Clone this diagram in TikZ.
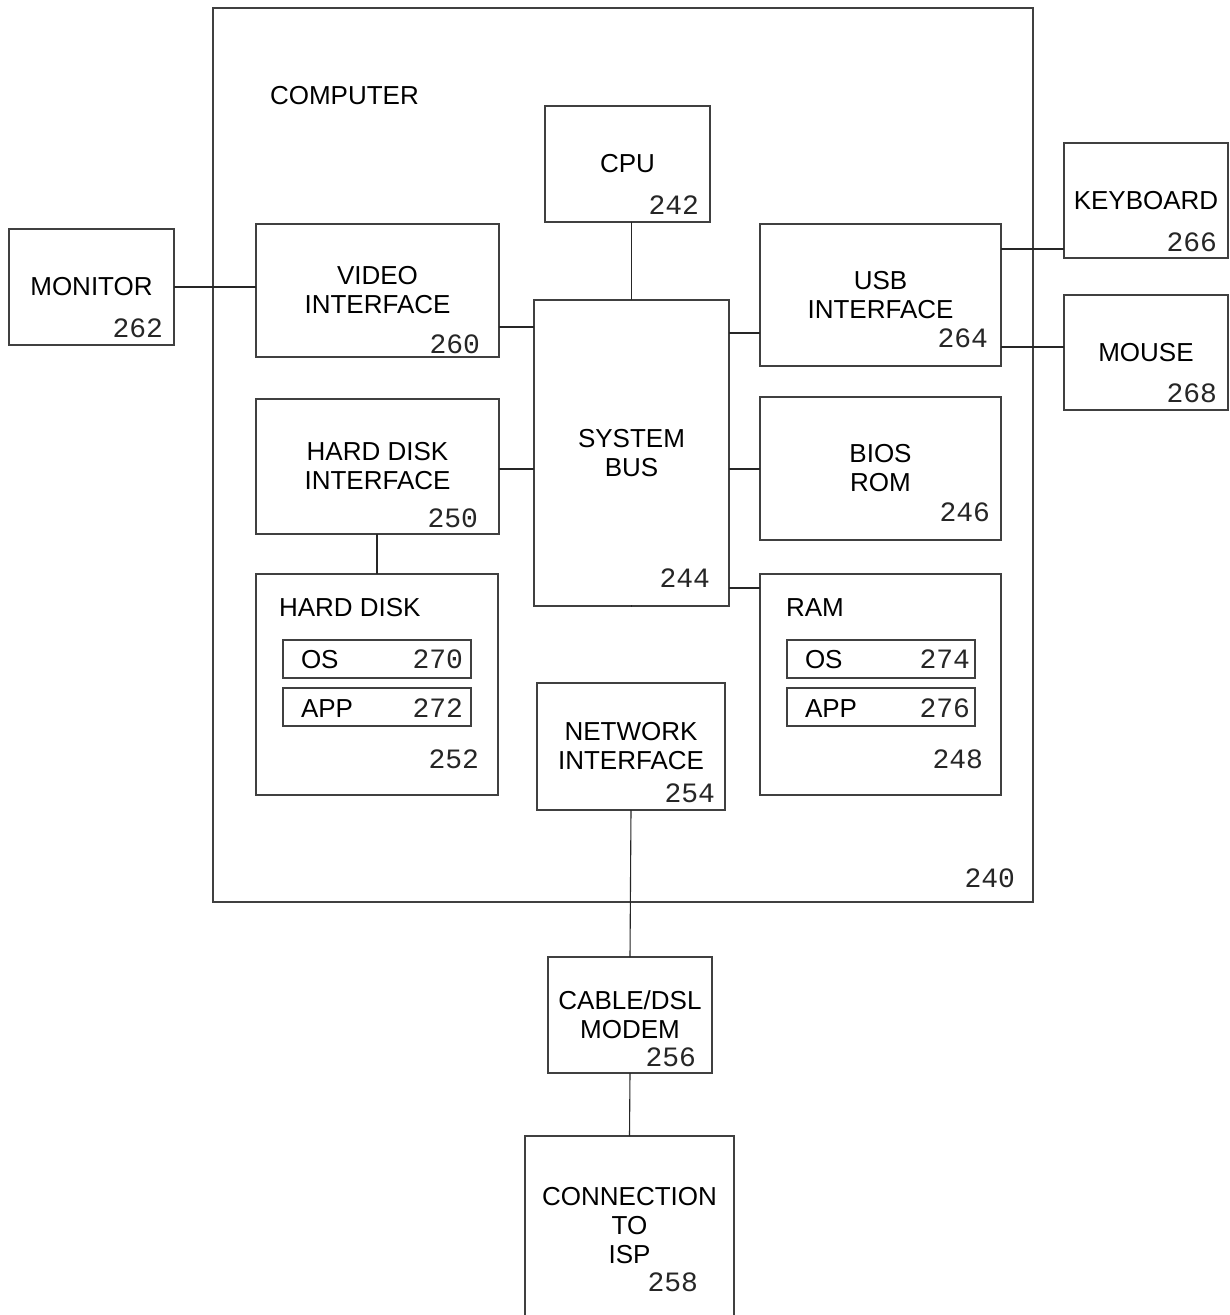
\documentclass[tikz,border=0pt]{standalone}
\usepackage{fontspec}
\setmainfont{Liberation Sans}
\newfontfamily\numfont{Liberation Mono}
\begin{document}
\begin{tikzpicture}[x=1pt,y=-1pt,
  box/.style={draw=black!75, line width=1.1pt, inner sep=0pt, outer sep=0pt, align=center,
    font=\fontsize{26}{29}\selectfont},
  num/.style={inner sep=0pt, outer sep=0pt, font=\numfont\fontsize{28}{30}\selectfont, text=black!85},
  lbl/.style={inner sep=0pt, outer sep=0pt, font=\fontsize{26}{29}\selectfont},
  wire/.style={draw=black!85, line width=1.1pt}]
\useasboundingbox (0,0) rectangle (1230,1315);
\fill[white] (0,0) rectangle (1230,1315);

% boxes
\node[box, minimum width=820pt, minimum height=894pt] (computer) at (623,455) {};
\node[box, minimum width=165pt, minimum height=116pt] (cpu) at (627.5,164) {CPU};
\node[box, minimum width=165pt, minimum height=116pt] (monitor) at (91.5,287) {MONITOR};
\node[box, minimum width=243pt, minimum height=133pt] (video) at (377.5,290.5) {VIDEO\\INTERFACE};
\node[box, minimum width=195pt, minimum height=306pt] (sysbus) at (631.5,453) {SYSTEM\\BUS};
\node[box, minimum width=241pt, minimum height=142pt] (usb) at (880.5,295) {USB\\INTERFACE};
\node[box, minimum width=164pt, minimum height=115pt] (keyboard) at (1146,200.5) {KEYBOARD};
\node[box, minimum width=164pt, minimum height=115pt] (mouse) at (1146,352.5) {MOUSE};
\node[box, minimum width=243pt, minimum height=135pt] (hdi) at (377.5,466.5) {HARD DISK\\INTERFACE};
\node[box, minimum width=241pt, minimum height=143pt] (bios) at (880.5,468.5) {BIOS\\ROM};
\node[box, minimum width=242pt, minimum height=221pt] (hd) at (377,684.5) {};
\node[box, minimum width=241pt, minimum height=221pt] (ram) at (880.5,684.5) {};
\node[box, minimum width=188pt, minimum height=38pt] (os1) at (377,659) {};
\node[box, minimum width=188pt, minimum height=38pt] (app1) at (377,707) {};
\node[box, minimum width=188pt, minimum height=38pt] (os2) at (881,659) {};
\node[box, minimum width=188pt, minimum height=38pt] (app2) at (881,707) {};
\node[box, minimum width=188pt, minimum height=127pt] (net) at (631,746.5) {NETWORK\\INTERFACE};
\node[box, minimum width=164pt, minimum height=116pt] (modem) at (630,1015) {CABLE/DSL\\MODEM};
\node[box, minimum width=209pt, minimum height=180pt] (isp) at (629.5,1226) {CONNECTION\\TO\\ISP};

% left-aligned labels
\node[lbl, anchor=base west] (tcomp) at (270,104) {COMPUTER};
\node[lbl, anchor=base west] (thd) at (279,616) {HARD DISK};
\node[lbl, anchor=base west] (tram) at (786,616) {RAM};
\node[lbl, anchor=base west] (tos1) at (301,668) {OS};
\node[lbl, anchor=base west] (tapp1) at (301,717) {APP};
\node[lbl, anchor=base west] (tos2) at (805,668) {OS};
\node[lbl, anchor=base west] (tapp2) at (805,717) {APP};

% reference numbers
\node[num, anchor=base east] (n262) at (163,337) {262};
\node[num, anchor=base east] (n260) at (480,353) {260};
\node[num, anchor=base east] (n242) at (699,214) {242};
\node[num, anchor=base east] (n264) at (988,347) {264};
\node[num, anchor=base east] (n266) at (1217,251) {266};
\node[num, anchor=base east] (n268) at (1217,402) {268};
\node[num, anchor=base east] (n250) at (478,527) {250};
\node[num, anchor=base east] (n244) at (710,587) {244};
\node[num, anchor=base east] (n246) at (990,521) {246};
\node[num, anchor=base east] (n270) at (463,668) {270};
\node[num, anchor=base east] (n272) at (463,717) {272};
\node[num, anchor=base east] (n274) at (970,668) {274};
\node[num, anchor=base east] (n276) at (970,717) {276};
\node[num, anchor=base east] (n252) at (479,768) {252};
\node[num, anchor=base east] (n248) at (983,768) {248};
\node[num, anchor=base east] (n254) at (715,802) {254};
\node[num, anchor=base east] (n240) at (1015,887) {240};
\node[num, anchor=base east] (n256) at (696,1066) {256};
\node[num, anchor=base east] (n258) at (698,1291) {258};

% connectors
\draw[wire] (monitor.east) -- (video.west |- monitor.east);
\draw[wire] (cpu.south -| sysbus.north) -- (sysbus.north);
\draw[wire] (video.east |- 0,327) -- (sysbus.west |- 0,327);
\draw[wire] (sysbus.east |- 0,333) -- (usb.west |- 0,333);
\draw[wire] (usb.east |- 0,249) -- (keyboard.west |- 0,249);
\draw[wire] (usb.east |- 0,347) -- (mouse.west |- 0,347);
\draw[wire] (hdi.east |- 0,469) -- (sysbus.west |- 0,469);
\draw[wire] (sysbus.east |- 0,469) -- (bios.west |- 0,469);
\draw[wire] (hdi.south -| hd.north) -- (hd.north);
\draw[wire] (sysbus.east |- 0,588) -- (ram.west |- 0,588);
\draw[wire] (sysbus.south) -- (sysbus.south -| net.north);
\draw[wire] (net.south) -- (modem.north);
\draw[wire] (modem.south) -- (isp.north);
\end{tikzpicture}
\end{document}
